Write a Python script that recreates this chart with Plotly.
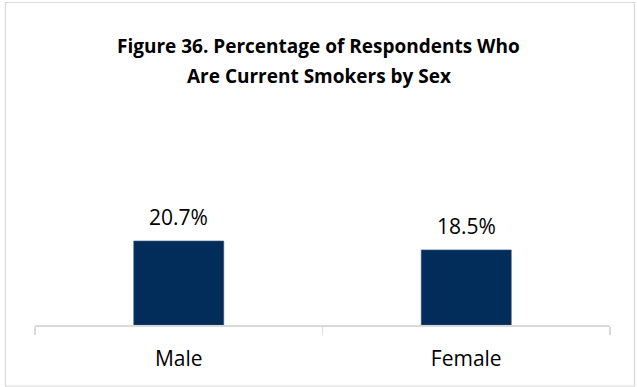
import plotly.graph_objects as go

categories = ["Male", "Female"]
values = [20.7, 18.5]
value_labels = ["20.7%", "18.5%"]
title_lines = ["Figure 36. Percentage of Respondents Who", "Are Current Smokers by Sex"]

W, H = 637, 387
FONT = "Open Sans"

def px_x(x):
    return x / W

def px_y(y):
    return 1 - y / H

fig = go.Figure()
fig.add_trace(go.Bar(
    x=categories, y=values,
    marker=dict(color="#022D5B", line=dict(color="#2A4F7E", width=0.6)),
    width=0.313,
    hoverinfo="skip",
))

for c, v, t in zip(categories, values, value_labels):
    fig.add_annotation(x=c, y=v, text=t, showarrow=False, xref="x", yref="y",
                       yanchor="bottom", yshift=8,
                       font=dict(family=FONT, size=21, color="#000000"))

for i, line in enumerate(title_lines):
    fig.add_annotation(x=px_x(318.5), y=px_y(46 + 30 * i), xref="paper", yref="paper",
                       text="<b>" + line + "</b>", showarrow=False,
                       xanchor="center", yanchor="middle",
                       font=dict(family=FONT, size=19, color="#000000"))

fig.add_shape(type="rect", xref="paper", yref="paper",
              x0=px_x(5.5), x1=px_x(634.5), y0=px_y(386), y1=px_y(2.5),
              line=dict(color="#D9D9D9", width=1.2), fillcolor="rgba(0,0,0,0)")

fig.update_layout(
    width=W, height=H,
    margin=dict(l=0, r=0, t=0, b=0),
    paper_bgcolor="white", plot_bgcolor="white",
    showlegend=False,
    font=dict(family=FONT, color="#000000"),
    xaxis=dict(domain=[px_x(35), px_x(610)], showline=True, linecolor="#D9D9D9",
               linewidth=1.5, ticks="outside", tickson="boundaries", ticklen=8,
               tickcolor="#D9D9D9", tickwidth=1.5, showgrid=False, zeroline=False,
               tickfont=dict(family=FONT, size=21, color="#000000"),
               ticklabelstandoff=14, fixedrange=True),
    yaxis=dict(domain=[px_y(325), px_y(325 - 25 * 4.057)], range=[0, 25],
               visible=False, showgrid=False, zeroline=False, fixedrange=True),
)

fig.write_html("out.html", config={"displayModeBar": False, "staticPlot": True},
               post_script="document.body.style.margin='0px';document.body.style.overflow='hidden';")
